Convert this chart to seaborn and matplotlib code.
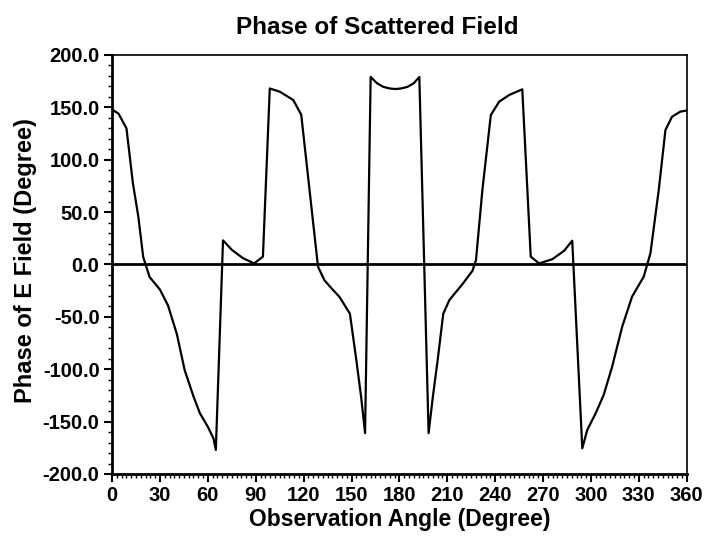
import seaborn as sns
import matplotlib.pyplot as plt
import pandas as pd
from matplotlib.ticker import MultipleLocator, FormatStrFormatter

# values
angle = [0, 4, 9, 13, 16.5, 19.5, 23.5, 30, 35, 40.5, 45.5, 51, 55, 60, 63.5, 65,
         69.5, 75, 82, 89, 94.5, 98.8, 105, 113.5, 118.5, 129, 133, 137, 142.5, 149,
         153, 156, 158.5, 162, 166, 170, 174, 177.5, 181, 185, 189, 192.5, 198.3,
         201, 204, 207.5, 211.3, 219.6, 225.8, 228, 232, 237.3, 242.5, 248.8, 257,
         262.3, 267.5, 275.8, 283.1, 288.3, 294.6, 297.7, 303, 308, 313.3, 319.6,
         325.8, 333.1, 337.3, 342.5, 346.7, 350.8, 356, 360]
phase = [148, 144, 130, 78, 45, 7, -12, -24, -39, -66, -101, -126, -142, -155, -166, -177,
         23, 14, 6, 1, 7.5, 168, 165, 157, 143, -2, -15, -22, -31, -47,
         -91, -126, -161, 179, 173, 169.5, 168, 167.5, 168, 169.5, 173, 179, -161,
         -126, -91, -47, -34, -18.6, -6, 4.3, 71, 142.7, 155.4, 161.8, 167.2,
         7.5, 1, 5, 12.9, 22.7, -175.5, -158, -142, -124.6, -97.6, -59.4,
         -30.7, -11.6, 10.7, 71, 128.4, 141, 145.9, 147]

df = pd.DataFrame({"angle": angle, "phase": phase})

sns.set_style("ticks", {"axes.edgecolor": "black", "text.color": "black",
                        "axes.labelcolor": "black", "xtick.color": "black",
                        "ytick.color": "black"})
plt.rcParams["font.family"] = ["Liberation Sans", "DejaVu Sans"]

fig = plt.figure(figsize=(7.05, 5.47), dpi=100)
ax = fig.add_axes([0.159, 0.1335, 0.815, 0.766])

sns.lineplot(data=df, x="angle", y="phase", color="black", linewidth=1.6,
             estimator=None, sort=False, ax=ax)
ax.axhline(0, color="black", linewidth=2)

ax.set_xlim(0, 360)
ax.set_ylim(-200, 200)
ax.xaxis.set_major_locator(MultipleLocator(30))
ax.xaxis.set_minor_locator(MultipleLocator(3))
ax.yaxis.set_major_locator(MultipleLocator(50))
ax.yaxis.set_minor_locator(MultipleLocator(10))
ax.yaxis.set_major_formatter(FormatStrFormatter("%.1f"))

ax.tick_params(which="major", length=6, width=1.5, labelsize=14.5, pad=3)
ax.tick_params(which="minor", length=3, width=1)
for lab in ax.get_xticklabels() + ax.get_yticklabels():
    lab.set_fontweight("bold")

for s in ["left", "bottom"]:
    ax.spines[s].set_linewidth(2)
for s in ["top", "right"]:
    ax.spines[s].set_linewidth(1.2)

ax.set_title("Phase of Scattered Field", fontsize=17.5, fontweight="bold", x=0.462, pad=15)
ax.set_xlabel("Observation Angle (Degree)", fontsize=16.5, fontweight="bold", labelpad=2)
ax.set_ylabel("Phase of E Field (Degree)", fontsize=17, fontweight="bold", labelpad=2)
ax.yaxis.set_label_coords(-0.13, 0.51)

fig.savefig("out.png", dpi=100)
plt.close()
